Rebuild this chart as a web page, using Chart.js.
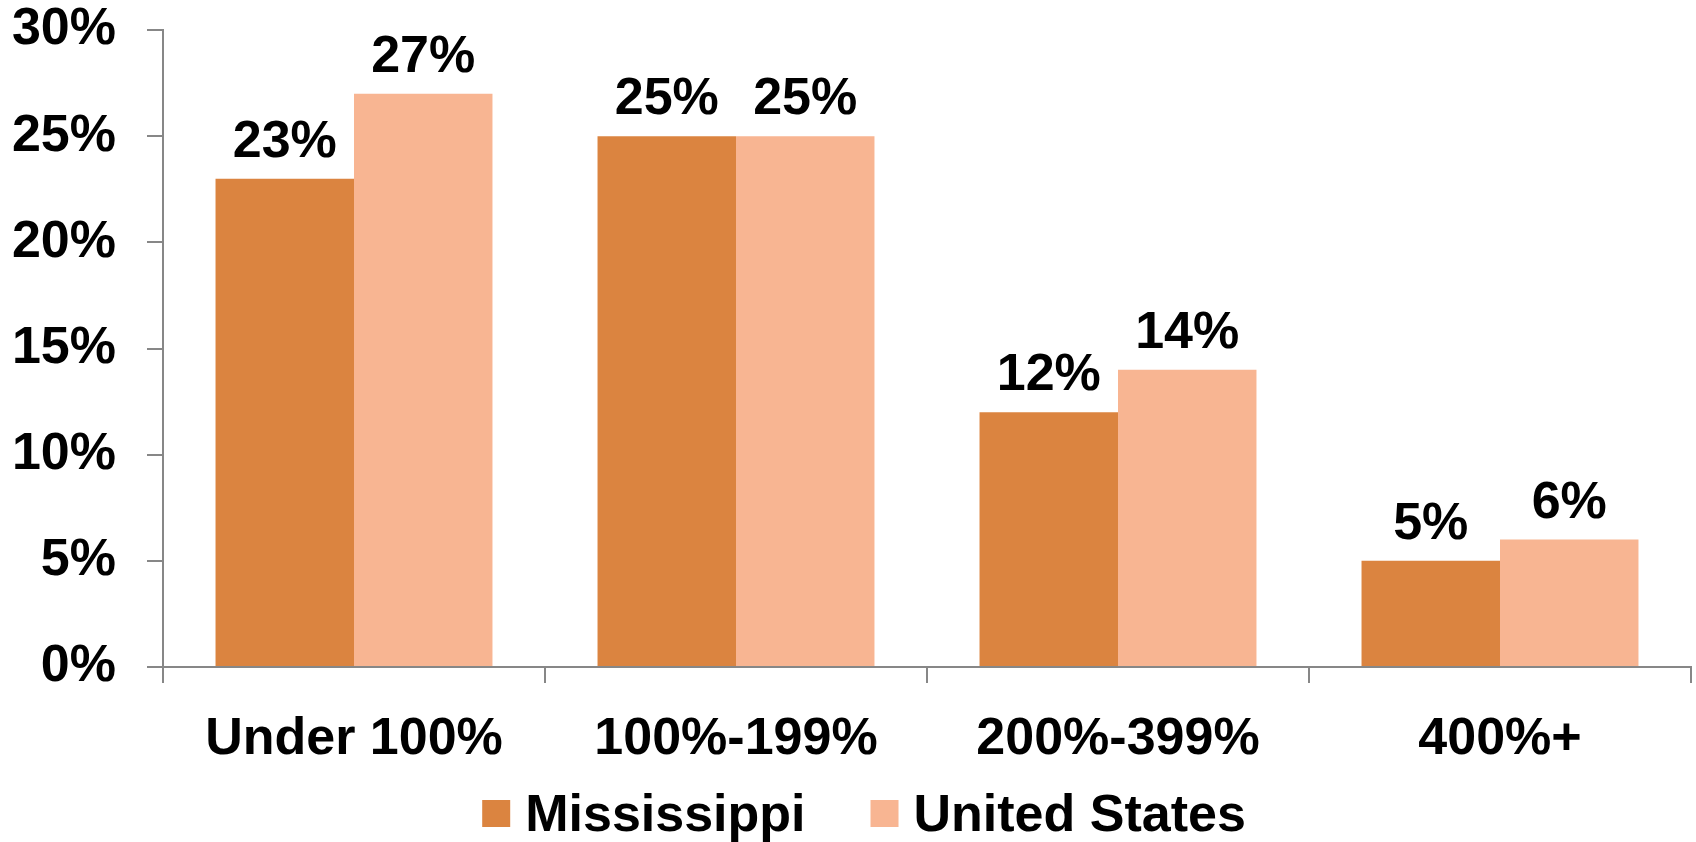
<!DOCTYPE html>
<html>
<head>
<meta charset="utf-8">
<title>Mississippi vs United States</title>
<script src="https://cdn.jsdelivr.net/npm/chart.js@4.4.1/dist/chart.umd.min.js"></script>
<style>
    html, body { margin: 0; padding: 0; background: #fff; }
    #chartWrap { width: 1696px; height: 842px; }
</style>
</head>
<body>
<div id="chartWrap">
    <canvas id="incomeChart" width="1696" height="842"></canvas>
</div>
<script>
// Chart data
const categories = ['Under 100%', '100%-199%', '200%-399%', '400%+'];
const mississippiValues = [23, 25, 12, 5];
const unitedStatesValues = [27, 25, 14, 6];
const yTicks = [0, 5, 10, 15, 20, 25, 30];

const FONT_FAMILY = '"Liberation Sans", Arial, sans-serif';
const AXIS_GRAY = '#878787';

// Value labels above each bar
const barValueLabels = {
    id: 'barValueLabels',
    afterDatasetsDraw(chart) {
        const ctx = chart.ctx;
        ctx.save();
        ctx.font = 'bold 52px ' + FONT_FAMILY;
        ctx.fillStyle = '#000';
        ctx.textAlign = 'center';
        ctx.textBaseline = 'alphabetic';
        chart.data.datasets.forEach((ds, i) => {
            chart.getDatasetMeta(i).data.forEach((bar, j) => {
                ctx.fillText(ds.data[j] + '%', bar.x, bar.y - 22);
            });
        });
        ctx.restore();
    }
};

// Simple legend under the axis (square + label)
const bottomLegend = {
    id: 'bottomLegend',
    afterDraw(chart) {
        const ctx = chart.ctx;
        ctx.save();
        ctx.font = 'bold 52px ' + FONT_FAMILY;
        const box = 28, gap = 15, spacing = 65;
        const items = chart.data.datasets.map(ds => ({
            text: ds.label,
            color: ds.backgroundColor,
            w: ctx.measureText(ds.label).width
        }));
        const total = items.reduce((s, it) => s + box + gap + it.w, 0) + spacing * (items.length - 1);
        let x = chart.width / 2 + 16 - total / 2;
        ctx.textBaseline = 'alphabetic';
        ctx.textAlign = 'left';
        items.forEach(it => {
            ctx.fillStyle = it.color;
            ctx.fillRect(x, 800, box, 27);
            ctx.fillStyle = '#000';
            ctx.fillText(it.text, x + box + gap, 831);
            x += box + gap + it.w + spacing;
        });
        ctx.restore();
    }
};

const ctx = document.getElementById('incomeChart');

new Chart(ctx, {
    type: 'bar',
    data: {
        labels: categories,
        datasets: [
            {
                label: 'Mississippi',
                data: mississippiValues,
                backgroundColor: '#DB8440',
                borderWidth: 0
            },
            {
                label: 'United States',
                data: unitedStatesValues,
                backgroundColor: '#F8B592',
                borderWidth: 0
            }
        ]
    },
    options: {
        responsive: false,
        animation: false,
        devicePixelRatio: 1,
        layout: {
            padding: { top: 30, right: 5, bottom: 0, left: 0 }
        },
        datasets: {
            bar: {
                categoryPercentage: 0.725,
                barPercentage: 1.0
            }
        },
        plugins: {
            legend: { display: false },
            tooltip: { enabled: false },
            title: { display: false }
        },
        scales: {
            x: {
                grid: {
                    display: true,
                    offset: true,
                    drawOnChartArea: false,
                    drawTicks: true,
                    tickLength: 16,
                    color: AXIS_GRAY,
                    lineWidth: 2
                },
                border: { display: true, color: AXIS_GRAY, width: 2 },
                ticks: {
                    color: '#000',
                    padding: 25,
                    maxRotation: 0,
                    font: { family: FONT_FAMILY, size: 52, weight: 'bold' }
                },
                afterFit(scale) {
                    scale.height = 175;
                    scale.paddingLeft = 0;
                    scale.paddingRight = 0;
                }
            },
            y: {
                min: 0,
                max: 30,
                afterBuildTicks(scale) {
                    scale.ticks = yTicks.map(v => ({ value: v }));
                },
                grid: {
                    display: true,
                    drawOnChartArea: false,
                    drawTicks: true,
                    tickLength: 16,
                    color: AXIS_GRAY,
                    lineWidth: 2
                },
                border: { display: true, color: AXIS_GRAY, width: 2 },
                ticks: {
                    color: '#000',
                    padding: 31,
                    font: { family: FONT_FAMILY, size: 52, weight: 'bold' },
                    callback: value => value + '%'
                },
                afterFit(scale) {
                    scale.width = 163;
                    scale.paddingTop = 0;
                    scale.paddingBottom = 0;
                }
            }
        }
    },
    plugins: [barValueLabels, bottomLegend]
});
</script>
</body>
</html>
